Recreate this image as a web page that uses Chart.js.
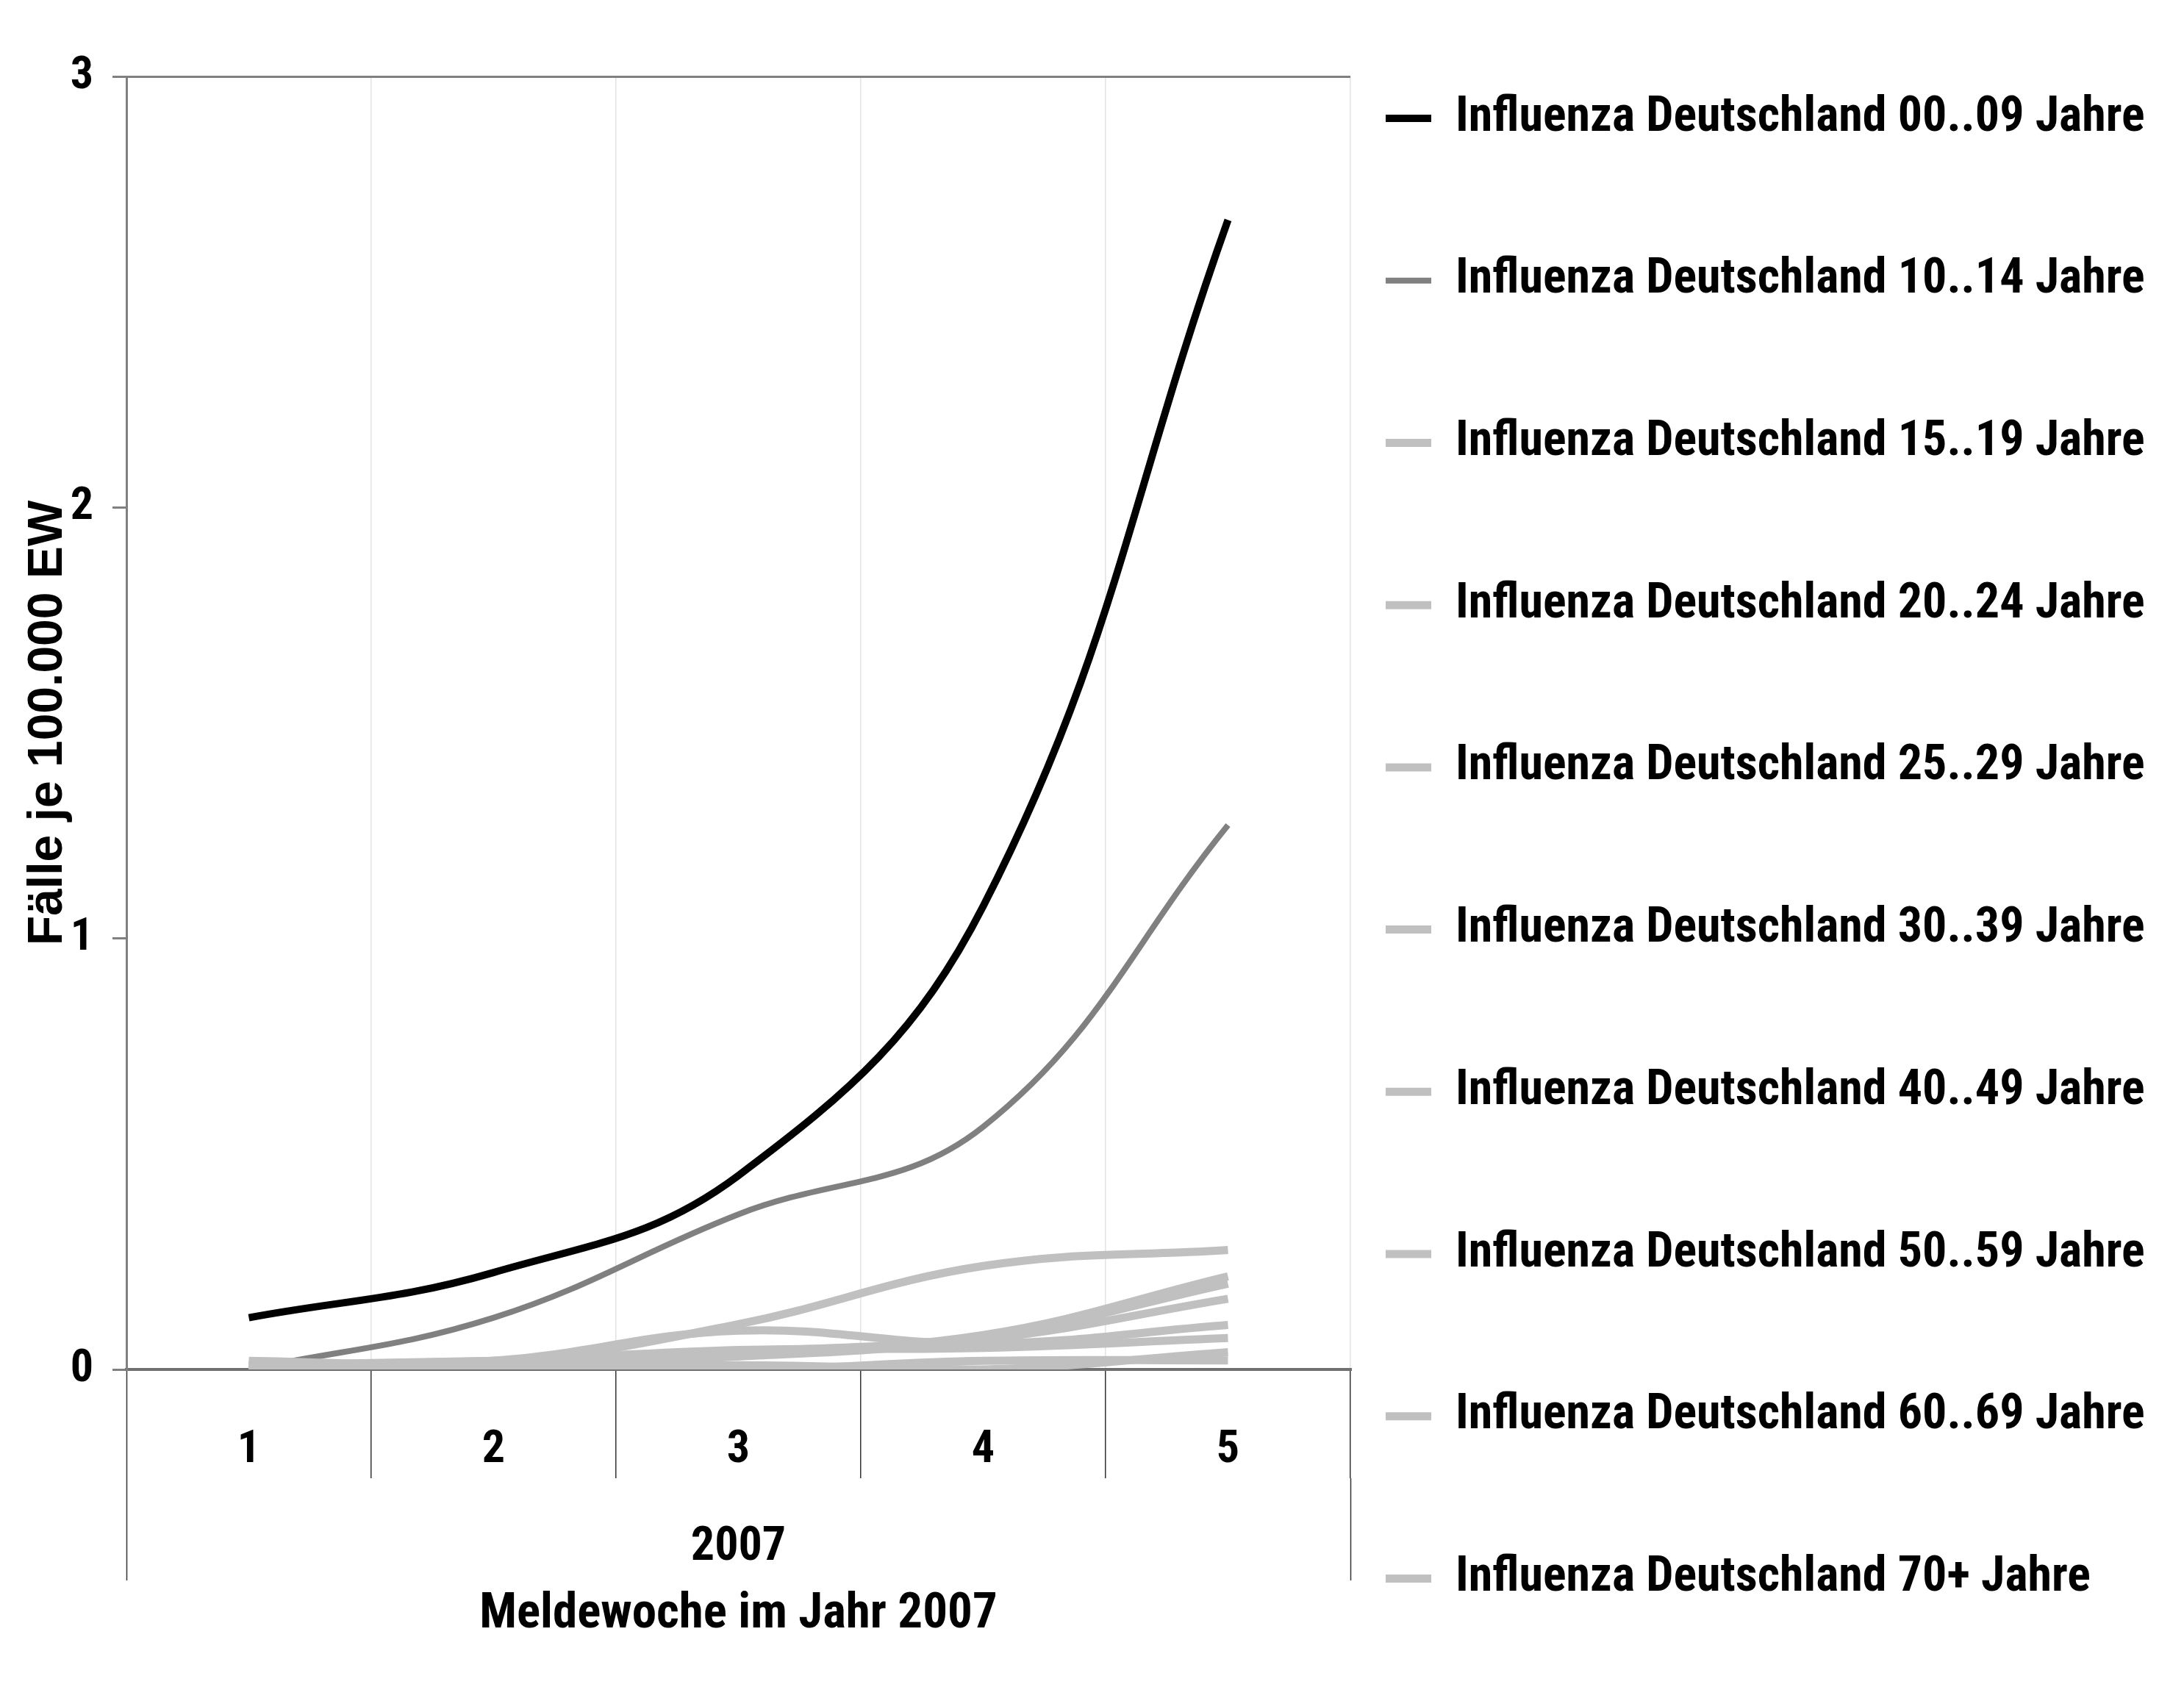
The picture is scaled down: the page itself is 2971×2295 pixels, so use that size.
<!DOCTYPE html>
<html>
<head>
<meta charset="utf-8">
<script src="https://cdn.jsdelivr.net/npm/chart.js@4.4.1/dist/chart.umd.min.js"></script>
<style>
  html, body { margin: 0; padding: 0; background: #fff; }
  #wrap { width: 2971px; height: 2295px; }
</style>
</head>
<body>
<div id="wrap"><canvas id="grippeChart"></canvas></div>
<script>
// Meldewochen und Jahr (zweite Achsenebene)
const weeks = ['1', '2', '3', '4', '5'];
const yearLabel = ['2007'];

const ageGroups = [
  'Influenza Deutschland 00..09 Jahre',
  'Influenza Deutschland 10..14 Jahre',
  'Influenza Deutschland 15..19 Jahre',
  'Influenza Deutschland 20..24 Jahre',
  'Influenza Deutschland 25..29 Jahre',
  'Influenza Deutschland 30..39 Jahre',
  'Influenza Deutschland 40..49 Jahre',
  'Influenza Deutschland 50..59 Jahre',
  'Influenza Deutschland 60..69 Jahre',
  'Influenza Deutschland 70+ Jahre'
];

// Fälle je 100.000 EW
const age0009 = [0.12, 0.225, 0.45, 1.075, 2.667];
const age1014 = [0.0, 0.12, 0.36, 0.563, 1.263];
const age1519 = [0.01, 0.015, 0.105, 0.24, 0.277];
const age2024 = [0.01, 0.02, 0.09, 0.06, 0.103];
const age2529 = [0.02, 0.01, 0.04, 0.08, 0.216];
const age3039 = [0.01, 0.02, 0.03, 0.075, 0.199];
const age4049 = [0.0, 0.01, 0.04, 0.07, 0.164];
const age5059 = [0.01, 0.02, 0.045, 0.05, 0.073];
const age6069 = [0.01, 0.0, 0.01, 0.0, 0.04];
const age70plus = [0.0, 0.01, 0.0, 0.02, 0.021];

const yTicks = [0, 1, 2, 3];

const seriesValues = [age0009, age1014, age1519, age2024, age2529, age3039, age4049, age5059, age6069, age70plus];
const lineColors = ['#000000', '#808080', '#c0c0c0', '#c0c0c0', '#c0c0c0', '#c0c0c0', '#c0c0c0', '#c0c0c0', '#c0c0c0', '#c0c0c0'];
const lineWidths = [10, 8, 11, 11, 11, 11, 11, 11, 11, 11];

// Roboto in its condensed width stands in for Arial Narrow
const NARROW = 'Roboto, sans-serif';
const NARROW_BOLD = 'bold condensed';
const WIDE = "'Liberation Sans', Arial, sans-serif";
const CLEAR = 'rgba(0,0,0,0)';

const datasets = ageGroups.map((name, i) => ({
  label: name,
  data: seriesValues[i],
  borderColor: lineColors[i],
  backgroundColor: lineColors[i],
  borderWidth: lineWidths[i],
  pointRadius: 0,
  pointHoverRadius: 0,
  tension: 0.4,
  fill: false,
  order: -i   // later series on top, like the original
}));

// the long legend labels run past the (capped) legend box, so widen its clip
const legendRoom = {
  id: 'legendRoom',
  afterLayout(chart) {
    if (chart.legend) {
      chart.legend.right = chart.width;
      chart.legend.width = chart.width - chart.legend.left;
    }
  }
};

// category separators below the axis: dark inside, lighter at the right end
const sepColor = (ctx, last) => ctx.index === last ? '#a0a0a0' : '#333333';

new Chart(document.getElementById('grippeChart'), {
  type: 'line',
  data: { labels: weeks, datasets: datasets },
  plugins: [legendRoom],
  options: {
    responsive: true,
    maintainAspectRatio: false,
    devicePixelRatio: 1,
    animation: false,
    layout: { padding: { left: 0, right: 534, top: 80, bottom: 0 } },
    scales: {
      x: {
        offset: true,
        afterFit: s => { s.height = 148; },
        grid: {
          offset: true,
          color: ctx => (ctx.index === 0 || ctx.index === weeks.length) ? '#808080' : '#e3e3e3',
          lineWidth: ctx => (ctx.index === 0 || ctx.index === weeks.length) ? 3 : 1.5,
          tickLength: 148,
          tickColor: ctx => sepColor(ctx, weeks.length),
          tickWidth: 1.5
        },
        border: { color: '#707070', width: 4 },
        ticks: {
          font: { family: NARROW, size: 62, weight: NARROW_BOLD },
          color: '#000',
          padding: -75,
          maxRotation: 0,
          autoSkip: false
        }
      },
      x2: {
        type: 'category',
        labels: yearLabel,
        position: 'bottom',
        weight: 1,
        offset: true,
        afterFit: s => { s.height = 284; },
        grid: {
          offset: true,
          drawOnChartArea: false,
          color: CLEAR,
          tickLength: 139,
          tickColor: ctx => sepColor(ctx, yearLabel.length),
          tickWidth: 1.5
        },
        border: { display: false },
        ticks: {
          font: { family: NARROW, size: 64, weight: NARROW_BOLD },
          color: '#000',
          padding: -82,
          maxRotation: 0
        },
        title: {
          display: true,
          text: 'Meldewoche im Jahr 2007',
          font: { family: NARROW, size: 67, weight: NARROW_BOLD },
          color: '#000',
          padding: { top: 0, bottom: 58 }
        }
      },
      y: {
        min: 0,
        max: 3,
        afterBuildTicks: s => { s.ticks = yTicks.map(v => ({ value: v })); },
        afterFit: s => { s.width = 172; s.paddingTop = 104; },
        grid: {
          color: ctx => (ctx.tick && ctx.tick.value === 3) ? '#808080' : CLEAR,
          lineWidth: 3,
          tickLength: 19,
          tickColor: '#808080',
          tickWidth: 3
        },
        border: { color: '#808080', width: 3 },
        ticks: {
          font: { family: NARROW, size: 62, weight: NARROW_BOLD },
          color: '#000',
          padding: 26
        },
        title: {
          display: true,
          text: 'Fälle je 100.000 EW',
          font: { family: WIDE, size: 66, weight: 'bold' },
          color: '#000',
          padding: { top: 26, bottom: 0 }
        }
      }
    },
    plugins: {
      tooltip: { enabled: false },
      legend: {
        position: 'right',
        align: 'start',
        maxWidth: 600,
        labels: {
          usePointStyle: true,
          pointStyle: 'line',
          pointStyleWidth: 62,
          padding: 48,
          color: '#000',
          font: { family: NARROW, size: 66, weight: NARROW_BOLD, lineHeight: 2.617 },
          generateLabels: chart => chart.data.datasets.map((ds, i, all) => ({
            // array text gives the tall item height; the last one stays a string
            text: i === all.length - 1 ? ds.label : [ds.label],
            fillStyle: ds.borderColor,
            strokeStyle: ds.borderColor,
            lineWidth: ds.borderWidth,
            lineCap: 'butt',
            pointStyle: 'line',
            fontColor: '#000',
            hidden: false,
            datasetIndex: i
          }))
        }
      }
    }
  }
});
</script>
</body>
</html>
